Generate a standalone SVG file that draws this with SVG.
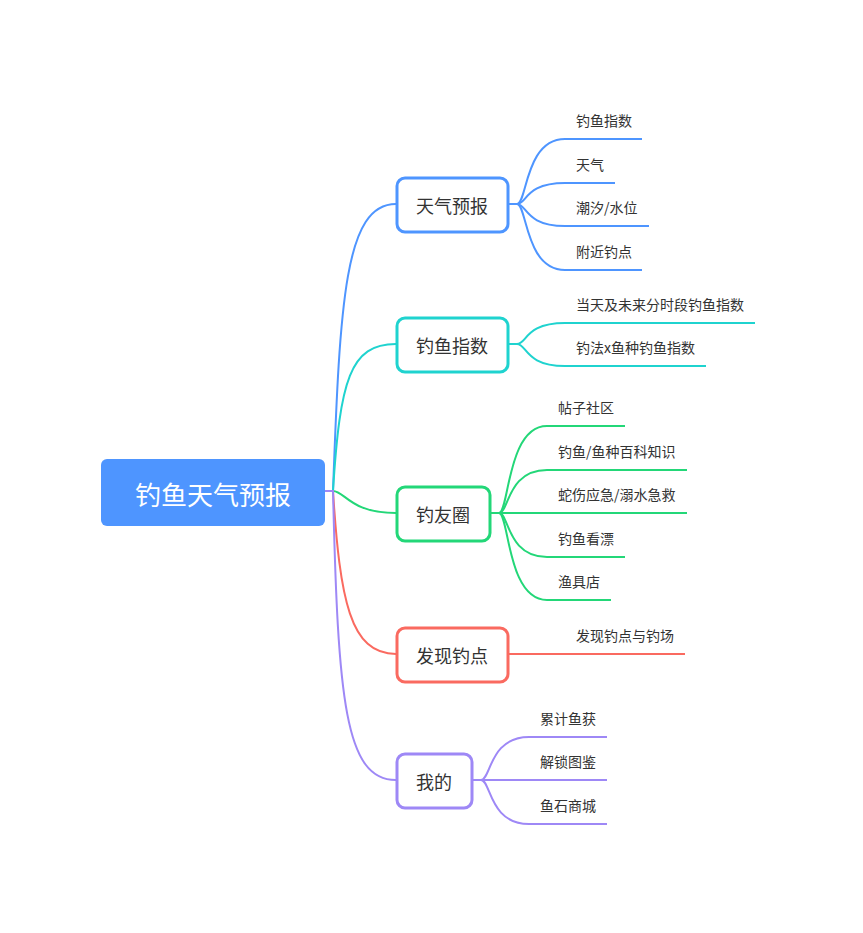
<svg xmlns="http://www.w3.org/2000/svg" width="863" height="933" viewBox="0 0 863 933">
<style>
text{font-family:"Noto Sans CJK SC","Noto Sans",sans-serif;fill:#333}
.c{fill:none;stroke-width:2}
.n{fill:#fff;stroke-width:3}
.t1{font-size:18px;text-anchor:middle;dominant-baseline:central}
.t2{font-size:14px}
.b{stroke:#4e95ff}.cy{stroke:#1fd3cf}.g{stroke:#23d778}.r{stroke:#fa6a60}.p{stroke:#9e88f6}
</style>
<rect width="863" height="933" fill="#fff"/>
<g id="connectors">
<path class="c b" d="M325,491 H333 C340,300 345,204 396,204"/>
<path class="c cy" d="M325,491 H333 C340,380 350,344 396,344"/>
<path class="c g" d="M325,491 H333 C345,491 350,513 396,513"/>
<path class="c r" d="M325,491 H333 C340,600 350,654 396,654"/>
<path class="c p" d="M325,491 H333 C338,700 345,780 396,780"/>
<path class="c b" d="M508,204 H517 C527,204 525,139 565,139 H642"/>
<path class="c b" d="M508,204 H517 C527,204 525,183 565,183 H615"/>
<path class="c b" d="M508,204 H517 C527,204 525,226 565,226 H649"/>
<path class="c b" d="M508,204 H517 C527,204 525,270 565,270 H642"/>
<path class="c cy" d="M508,344 H517 C527,344 525,323 565,323 H755"/>
<path class="c cy" d="M508,344 H517 C527,344 525,366 565,366 H706"/>
<path class="c g" d="M490,513 H499 C509,513 507,426 547,426 H625"/>
<path class="c g" d="M490,513 H499 C509,513 507,470 547,470 H687"/>
<path class="c g" d="M490,513 H687"/>
<path class="c g" d="M490,513 H499 C509,513 507,557 547,557 H625"/>
<path class="c g" d="M490,513 H499 C509,513 507,600 547,600 H611"/>
<path class="c r" d="M508,654 H685"/>
<path class="c p" d="M472,780 H481 C491,780 489,737 529,737 H607"/>
<path class="c p" d="M472,780 H607"/>
<path class="c p" d="M472,780 H481 C491,780 489,824 529,824 H607"/>
</g>
<g id="root"><rect x="101" y="459" width="224" height="67" rx="6" fill="#4e95ff"/><text x="213" y="493" style="font-size:26px;fill:#fff;text-anchor:middle;dominant-baseline:central">钓鱼天气预报</text></g>
<g id="n1"><rect class="n b" x="397" y="178" width="111" height="54" rx="8"/><text class="t1" x="452" y="205">天气预报</text></g>
<g id="n2"><rect class="n cy" x="397" y="318" width="111" height="54" rx="8"/><text class="t1" x="452" y="345">钓鱼指数</text></g>
<g id="n3"><rect class="n g" x="397" y="487" width="93" height="54" rx="8"/><text class="t1" x="443" y="514">钓友圈</text></g>
<g id="n4"><rect class="n r" x="397" y="628" width="111" height="54" rx="8"/><text class="t1" x="452" y="655">发现钓点</text></g>
<g id="n5"><rect class="n p" x="397" y="754" width="75" height="54" rx="8"/><text class="t1" x="434" y="781">我的</text></g>
<g id="leaves">
<text class="t2" x="576" y="126">钓鱼指数</text>
<text class="t2" x="576" y="170">天气</text>
<text class="t2" x="576" y="213">潮汐/水位</text>
<text class="t2" x="576" y="257">附近钓点</text>
<text class="t2" x="576" y="310">当天及未来分时段钓鱼指数</text>
<text class="t2" x="576" y="353">钓法x鱼种钓鱼指数</text>
<text class="t2" x="558" y="413">帖子社区</text>
<text class="t2" x="558" y="457">钓鱼/鱼种百科知识</text>
<text class="t2" x="558" y="500">蛇伤应急/溺水急救</text>
<text class="t2" x="558" y="544">钓鱼看漂</text>
<text class="t2" x="558" y="587">渔具店</text>
<text class="t2" x="576" y="641">发现钓点与钓场</text>
<text class="t2" x="540" y="724">累计鱼获</text>
<text class="t2" x="540" y="767">解锁图鉴</text>
<text class="t2" x="540" y="811">鱼石商城</text>
</g>
</svg>
